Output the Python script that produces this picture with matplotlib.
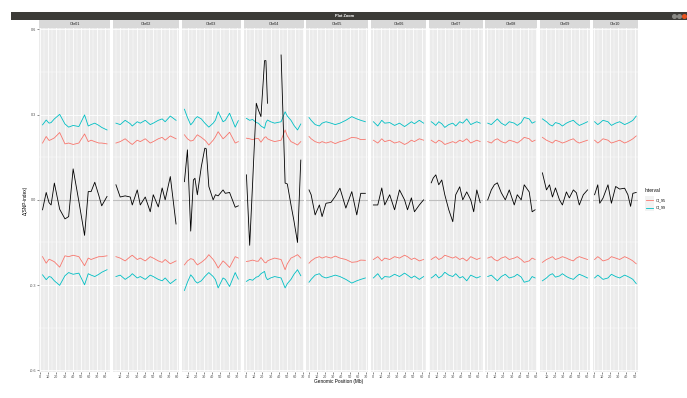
import numpy as np
import matplotlib.pyplot as plt
from matplotlib.lines import Line2D
from matplotlib.patches import Rectangle
from matplotlib.ticker import MultipleLocator, FormatStrFormatter

nan = np.nan

chroms = ['Chr01', 'Chr02', 'Chr03', 'Chr04', 'Chr05',
          'Chr06', 'Chr07', 'Chr08', 'Chr09', 'Chr10']

# genomic position (Mb) of each window
positions = {
    'Chr01': [3, 7.5, 11, 13.5, 17.5, 24, 30.5, 35, 40.5, 47.5, 54.5, 59, 62.5, 67, 72, 75.5, 82],
    'Chr02': [4.7, 9.9, 16, 22.2, 24.7, 30.8, 34.5, 40.6, 46.7, 50.4, 56.6, 61.3, 65, 71.3, 78.3],
    'Chr03': [6, 9.7, 13.7, 17, 18.9, 21.8, 26.7, 31, 32.7, 35.9, 41.2, 44, 47.3, 53.3, 56.1, 61.3, 68.2, 72],
    'Chr04': [0.4, 4.4, 8, 12.5, 15, 18.2, 22.6, 24.3, 26.2, 30, 35, 38, 42.9, 47.8, 50.5, 55, 58.7, 63, 67],
    'Chr05': [0.3, 2.9, 7.8, 13, 16.3, 21.1, 27.2, 32.4, 38.2, 45.4, 52.7, 58.8, 63.7, 69.3],
    'Chr06': [1, 6.4, 11.3, 14.9, 21, 27, 33, 39.2, 42.8, 47.6, 51.3, 57.3, 62.5],
    'Chr07': [3, 5.5, 8.6, 12.2, 15.9, 19.6, 24.5, 29.4, 33, 37.9, 41.6, 46.5, 51.4, 55, 58.8, 63],
    'Chr08': [0.8, 5.2, 8.9, 12.6, 17.4, 22.3, 27.2, 33.3, 37, 41.8, 45.5, 51.6, 55.2, 58.8],
    'Chr09': [5, 10, 13.7, 17.3, 21, 25.9, 29.5, 34.4, 38, 42.9, 46.6, 50.2, 55.1, 60.3],
    'Chr10': [1, 4.9, 7.3, 11.3, 17.4, 21.6, 26.8, 31.7, 37.8, 41.8, 45.1, 47.9, 52],
}

delta_snp = {
    'Chr01': [-0.035, 0.026, -0.010, -0.018, 0.059, -0.033, -0.067, -0.059, 0.109, -0.005, -0.125, 0.029, 0.029, 0.062, 0.015, -0.021, 0.012],
    'Chr02': [0.053, 0.010, 0.014, 0.010, -0.018, 0.035, -0.018, 0.010, -0.042, 0.018, -0.025, 0.042, 0.000, 0.082, -0.085],
    'Chr03': [0.064, 0.176, -0.110, 0.070, 0.076, 0.018, 0.117, 0.182, 0.180, 0.047, 0.000, 0.018, 0.014, 0.035, 0.023, 0.026, -0.026, -0.021],
    'Chr04': [0.088, -0.160, 0.060, 0.340, 0.317, 0.293, 0.490, 0.490, 0.340, nan, nan, nan, 0.510, 0.059, 0.056, -0.018, -0.075, -0.150, 0.140],
    'Chr05': [0.035, 0.018, -0.053, -0.018, -0.059, -0.012, -0.009, 0.012, 0.041, -0.029, 0.029, -0.053, 0.023, 0.023],
    'Chr06': [-0.018, -0.018, 0.042, -0.018, 0.018, -0.035, 0.035, 0.000, -0.035, 0.007, -0.042, -0.018, 0.000],
    'Chr07': [0.060, 0.077, 0.088, 0.053, 0.070, 0.018, -0.035, -0.077, 0.018, 0.046, 0.000, 0.028, 0.000, -0.042, 0.035, -0.010],
    'Chr08': [0.000, 0.035, 0.053, 0.060, 0.025, 0.000, 0.035, -0.018, 0.018, 0.000, 0.053, 0.028, -0.042, -0.035],
    'Chr09': [0.095, 0.035, 0.053, 0.010, 0.042, 0.000, -0.018, 0.028, 0.007, 0.035, 0.025, -0.018, 0.018, 0.035],
    'Chr10': [0.018, 0.053, -0.012, 0.006, 0.053, -0.012, 0.047, 0.038, 0.041, 0.018, -0.023, 0.023, 0.026],
}

ci_95 = {
    'Chr01': [0.200, 0.223, 0.209, 0.212, 0.218, 0.237, 0.197, 0.200, 0.195, 0.200, 0.232, 0.205, 0.210, 0.205, 0.200, 0.200, 0.197],
    'Chr02': [0.200, 0.205, 0.215, 0.200, 0.195, 0.210, 0.205, 0.215, 0.200, 0.205, 0.215, 0.220, 0.210, 0.225, 0.215],
    'Chr03': [0.229, 0.215, 0.207, 0.210, 0.218, 0.229, 0.220, 0.210, 0.205, 0.193, 0.210, 0.222, 0.240, 0.215, 0.222, 0.238, 0.200, 0.205],
    'Chr04': [0.217, 0.215, 0.212, 0.216, 0.216, 0.203, 0.220, 0.222, 0.215, 0.210, 0.205, 0.207, 0.210, 0.246, 0.225, 0.205, 0.200, 0.193, 0.205],
    'Chr05': [0.223, 0.215, 0.205, 0.200, 0.205, 0.200, 0.205, 0.198, 0.205, 0.210, 0.220, 0.218, 0.212, 0.213],
    'Chr06': [0.210, 0.200, 0.215, 0.205, 0.210, 0.200, 0.205, 0.195, 0.200, 0.210, 0.205, 0.215, 0.210],
    'Chr07': [0.210, 0.205, 0.200, 0.210, 0.205, 0.195, 0.200, 0.205, 0.200, 0.210, 0.205, 0.215, 0.200, 0.205, 0.210, 0.205],
    'Chr08': [0.205, 0.200, 0.210, 0.215, 0.205, 0.200, 0.210, 0.205, 0.200, 0.210, 0.220, 0.215, 0.205, 0.210],
    'Chr09': [0.220, 0.210, 0.205, 0.200, 0.210, 0.205, 0.200, 0.205, 0.210, 0.215, 0.205, 0.200, 0.205, 0.210],
    'Chr10': [0.210, 0.200, 0.205, 0.215, 0.210, 0.200, 0.205, 0.210, 0.200, 0.205, 0.210, 0.215, 0.225],
}

ci_99 = {
    'Chr01': [0.264, 0.281, 0.270, 0.272, 0.285, 0.301, 0.267, 0.256, 0.262, 0.258, 0.299, 0.260, 0.265, 0.270, 0.262, 0.255, 0.246],
    'Chr02': [0.270, 0.265, 0.280, 0.268, 0.260, 0.275, 0.270, 0.280, 0.265, 0.270, 0.280, 0.285, 0.275, 0.295, 0.280],
    'Chr03': [0.319, 0.290, 0.264, 0.275, 0.285, 0.293, 0.285, 0.270, 0.265, 0.256, 0.270, 0.281, 0.310, 0.275, 0.280, 0.305, 0.256, 0.279],
    'Chr04': [0.287, 0.280, 0.283, 0.272, 0.270, 0.260, 0.252, 0.272, 0.281, 0.275, 0.270, 0.272, 0.275, 0.310, 0.295, 0.280, 0.262, 0.246, 0.267],
    'Chr05': [0.290, 0.280, 0.265, 0.260, 0.270, 0.275, 0.270, 0.265, 0.270, 0.280, 0.293, 0.285, 0.280, 0.275],
    'Chr06': [0.275, 0.260, 0.280, 0.270, 0.272, 0.262, 0.270, 0.258, 0.265, 0.275, 0.268, 0.280, 0.270],
    'Chr07': [0.275, 0.270, 0.262, 0.275, 0.268, 0.255, 0.265, 0.270, 0.260, 0.275, 0.270, 0.285, 0.265, 0.270, 0.275, 0.270],
    'Chr08': [0.270, 0.265, 0.275, 0.285, 0.270, 0.262, 0.275, 0.270, 0.262, 0.272, 0.290, 0.285, 0.270, 0.275],
    'Chr09': [0.285, 0.275, 0.265, 0.260, 0.272, 0.268, 0.260, 0.270, 0.275, 0.280, 0.270, 0.262, 0.268, 0.275],
    'Chr10': [0.275, 0.265, 0.270, 0.280, 0.275, 0.262, 0.270, 0.275, 0.265, 0.270, 0.275, 0.280, 0.295],
}

interval_labels = ['CI_95', 'CI_99']
interval_colors = ['#F8766D', '#00BFC4']

plt.rcParams['font.family'] = ['Liberation Sans', 'DejaVu Sans']
plt.rcParams['axes.unicode_minus'] = False

W, H = 687, 398
fig = plt.figure(figsize=(W / 100, H / 100), dpi=100)


def fx(px):
    return px / W


def fy(py):
    return 1 - py / H


# window title bar of the zoom window
fig.add_artist(Rectangle((fx(11), fy(19.5)), fx(687) - fx(11), 7.5 / H,
                         transform=fig.transFigure, color='#3C3B37', lw=0))
fig.text(fx(345), fy(15.8), 'Plot Zoom', color='white', fontsize=2.8,
         ha='center', va='center', fontweight='bold')
for bx, bc in zip([674, 679, 684], ['#8A8A85', '#8A8A85', '#E95420']):
    fig.add_artist(Line2D([fx(bx)], [fy(15.8)], marker='o', ms=2.6, color=bc,
                          transform=fig.transFigure))

left, right, top, bottom = 39.3, 638.3, 28.0, 371.7
gap = 2.7
spans = [max(positions[c]) - min(positions[c]) for c in chroms]
avg_w = (right - left - gap * 9) / 10
gs = fig.add_gridspec(1, 10, left=fx(left), right=fx(right), top=fy(top),
                      bottom=fy(bottom), width_ratios=spans, wspace=gap / avg_w)

panel_h = bottom - top
for i, chrom in enumerate(chroms):
    ax = fig.add_subplot(gs[0, i])
    ax.set_facecolor('#EBEBEB')
    for s in ax.spines.values():
        s.set_visible(False)

    pos = np.array(positions[chrom])
    ax.axhline(0, color='#BEBEBE', lw=0.8, zorder=1)
    ax.plot(pos, delta_snp[chrom], color='black', lw=0.6, zorder=3)
    for ci, col in zip([ci_95[chrom], ci_99[chrom]], interval_colors):
        ci = np.array(ci)
        ax.plot(pos, ci, color=col, lw=0.6, zorder=2)
        ax.plot(pos, -ci, color=col, lw=0.6, zorder=2)

    ax.margins(x=0.05)
    ax.set_ylim(-0.605, 0.605)
    ax.xaxis.set_major_locator(MultipleLocator(10))
    ax.xaxis.set_minor_locator(MultipleLocator(5))
    ax.yaxis.set_major_locator(MultipleLocator(0.3))
    ax.yaxis.set_minor_locator(MultipleLocator(0.15))
    ax.yaxis.set_major_formatter(FormatStrFormatter('%.1f'))
    ax.xaxis.set_major_formatter(FormatStrFormatter('%d'))
    ax.set_axisbelow(True)
    ax.grid(which='major', color='white', lw=0.6)
    ax.grid(which='minor', color='white', lw=0.3)
    ax.tick_params(which='major', length=1.4, width=0.4, color='#333333',
                   labelsize=2.7, labelcolor='#4D4D4D', pad=0.8)
    ax.tick_params(which='minor', length=0)
    if i > 0:
        ax.tick_params(axis='y', which='both', left=False, labelleft=False)

    # facet strip
    sh = 8.0 / panel_h
    ax.add_patch(Rectangle((0, 1.001), 1, sh, transform=ax.transAxes,
                           color='#D9D9D9', lw=0, clip_on=False))
    ax.text(0.5, 1.001 + sh / 2, chrom, transform=ax.transAxes, ha='center',
            va='center', fontsize=2.7, color='#1A1A1A')

fig.text(fx(339), fy(381.7), 'Genomic Position (Mb)', ha='center', va='center',
         fontsize=3.4, color='black')
fig.text(fx(25), fy(200), 'Δ(SNP-index)', ha='center', va='center',
         rotation=90, fontsize=3.4, color='black')

# legend
fig.text(fx(645), fy(190.7), 'Interval', ha='left', va='center', fontsize=3.4)
for j, (lab, col) in enumerate(zip(interval_labels, interval_colors)):
    yc = 200 + j * 7.7
    fig.add_artist(Rectangle((fx(645), fy(yc + 3.6)), 8.5 / W, 7.2 / H,
                             transform=fig.transFigure, color='#F2F2F2', lw=0))
    fig.add_artist(Line2D([fx(646), fx(652.5)], [fy(yc), fy(yc)], color=col,
                          lw=0.6, transform=fig.transFigure))
    fig.text(fx(656), fy(yc), lab, ha='left', va='center', fontsize=2.7,
             color='black')

fig.savefig('out.png', dpi=100)
